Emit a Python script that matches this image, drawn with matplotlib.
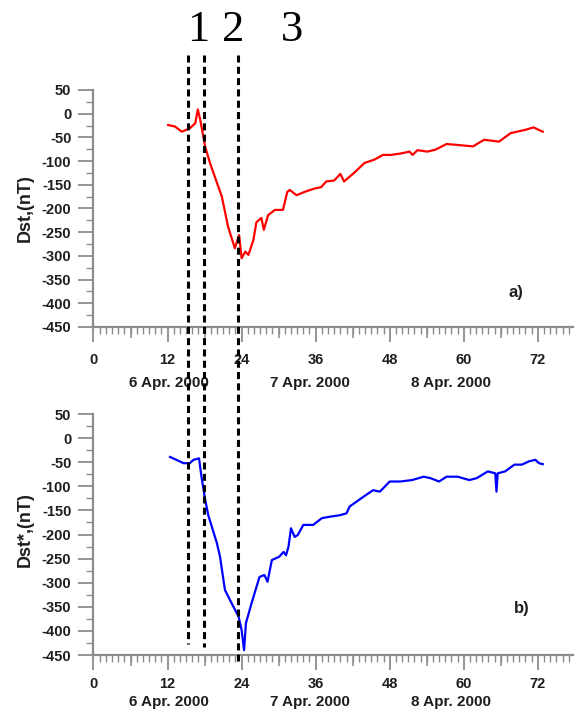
import matplotlib
matplotlib.use("Agg")
import matplotlib.pyplot as plt
import matplotlib.transforms as mtransforms
from matplotlib.lines import Line2D
from matplotlib.ticker import MultipleLocator

plt.rcParams['font.family'] = ['Liberation Sans', 'DejaVu Sans']
plt.rcParams['axes.unicode_minus'] = False

# hours counted from 00 UT, 6 Apr. 2000
t_dst = [12.1, 13.2, 14.3, 15.6, 16.5, 16.9, 17.3, 18.1, 18.9, 20.8, 21.8, 22.9,
         23.6, 24.0, 24.6, 25.1, 25.9, 26.4, 27.2, 27.6, 28.3, 29.4, 30.7, 31.4,
         31.8, 32.9, 34.2, 35.8, 36.9, 37.7, 39.0, 40.0, 40.6, 42.3, 43.9, 45.5,
         46.9, 48.2, 49.8, 51.2, 51.7, 52.5, 54.1, 55.4, 57.2, 59.0, 61.5, 63.3,
         65.7, 67.6, 70.0, 71.3, 72.8]
dst = [-24, -27, -38, -31, -20, 9, -13, -70, -105, -175, -238, -284,
       -256, -305, -291, -298, -267, -229, -220, -245, -214, -203, -203, -165,
       -161, -172, -165, -158, -155, -143, -141, -127, -143, -124, -104, -97,
       -87, -87, -84, -80, -87, -77, -80, -76, -64, -66, -69, -55,
       -59, -41, -34, -29, -38]

t_dst_star = [12.4, 14.6, 15.6, 16.2, 17.1, 17.5, 18.1, 18.6, 20.0, 20.5, 21.3,
              22.4, 23.5, 24.0, 24.4, 24.7, 25.6, 26.9, 27.7, 28.2, 28.9, 30.1,
              30.8, 31.2, 31.6, 32.0, 32.6, 33.1, 34.0, 35.6, 37.0, 38.3, 39.9,
              41.0, 41.5, 43.7, 45.3, 46.4, 48.0, 49.7, 51.6, 53.5, 54.6, 56.0,
              57.2, 59.0, 60.9, 62.1, 63.9, 65.1, 65.3, 65.5, 66.7, 68.2, 69.4,
              70.6, 71.6, 72.2, 72.8]
dst_star = [-39, -52, -52, -45, -42, -80, -128, -160, -218, -246, -315,
            -343, -370, -398, -440, -384, -343, -288, -284, -298, -253, -246,
            -236, -243, -225, -187, -205, -201, -180, -180, -166, -163, -160,
            -156, -142, -122, -108, -111, -90, -90, -87, -80, -83, -90,
            -80, -80, -87, -83, -69, -73, -111, -73, -69, -55, -55,
            -48, -45, -52, -54]

event_times = [15.3, 17.9, 23.4]
event_names = ['1', '2', '3']
event_name_x = [16.9, 22.6, 32.2]
day_labels = ['6 Apr. 2000', '7 Apr. 2000', '8 Apr. 2000']
day_label_x = [12.3, 35.0, 58.0]
hour_ticks = [0, 12, 24, 36, 48, 60, 72]

GREY = '#8c8c8c'
TEXT = '#1e1e1e'


def style_axis(ax, ylabel, tag, tag_xy, label_pad, date_offset):
    ax.set_xlim(0, 77.7)
    ax.set_ylim(-450, 50)
    for side in ['top', 'right']:
        ax.spines[side].set_visible(False)
    for side in ['left', 'bottom']:
        ax.spines[side].set_color(GREY)
        ax.spines[side].set_linewidth(1.6)

    ax.set_xticks(hour_ticks)
    ax.xaxis.set_minor_locator(MultipleLocator(1))
    ax.yaxis.set_major_locator(MultipleLocator(50))
    ax.yaxis.set_minor_locator(MultipleLocator(25))
    ax.tick_params(axis='x', which='major', length=11, width=1.3, color=GREY,
                   pad=label_pad, labelsize=10.5)
    ax.tick_params(axis='x', which='minor', length=5, width=1.0, color=GREY)
    ax.tick_params(axis='y', which='major', length=11, width=1.3, color=GREY,
                   pad=5, labelsize=10.5)
    ax.tick_params(axis='y', which='minor', length=5, width=1.0, color=GREY)
    for lab in ax.get_xticklabels() + ax.get_yticklabels():
        lab.set_fontweight('bold')
        lab.set_color(TEXT)

    # medium ticks every 6 hours
    sec = ax.secondary_xaxis('bottom')
    sec.set_xticks([h + 6 for h in hour_ticks])
    sec.tick_params(length=8, width=1.1, color=GREY, labelbottom=False)
    sec.spines['bottom'].set_visible(False)

    ax.set_ylabel(ylabel, fontsize=13, fontweight='bold', color=TEXT)

    for name, x in zip(day_labels, day_label_x):
        ax.annotate(name, xy=(x, 0), xycoords=('data', 'axes fraction'),
                    xytext=(0, date_offset), textcoords='offset points',
                    ha='center', va='center', fontsize=11, fontweight='bold',
                    color=TEXT, annotation_clip=False)

    ax.text(tag_xy[0], tag_xy[1], tag, fontsize=12, fontweight='bold',
            ha='center', va='center', color=TEXT)


fig = plt.figure(figsize=(5.88, 7.13), dpi=100)
ax1 = fig.add_axes([0.159, 0.5414, 0.8155, 0.3324])
ax2 = fig.add_axes([0.159, 0.0813, 0.8155, 0.3380])

ax1.plot(t_dst, dst, color='#ff0000', lw=1.6)
ax2.plot(t_dst_star, dst_star, color='#0000ff', lw=1.6)

style_axis(ax1, 'Dst,(nT)', 'a)', (68.5, -378), 8, -40)
style_axis(ax2, 'Dst*,(nT)', 'b)', (69.4, -353), 5, -34)
ax1.yaxis.set_label_coords(-0.125, 0.5)
ax2.yaxis.set_label_coords(-0.125, 0.52)

# event markers spanning both panels
trans = mtransforms.blended_transform_factory(ax1.transData, fig.transFigure)
line_bottoms = [0.097, 0.092, 0.073]
for x, yb in zip(event_times, line_bottoms):
    fig.add_artist(Line2D([x, x], [0.923, yb], transform=trans, color='black',
                          lw=2.2, dashes=(2.3, 1.4)))
for name, x in zip(event_names, event_name_x):
    fig.text(x, 0.958, name, transform=trans, ha='center', va='center',
             fontsize=32, family=['Liberation Serif', 'DejaVu Serif'])

fig.savefig('out.png', dpi=100)
